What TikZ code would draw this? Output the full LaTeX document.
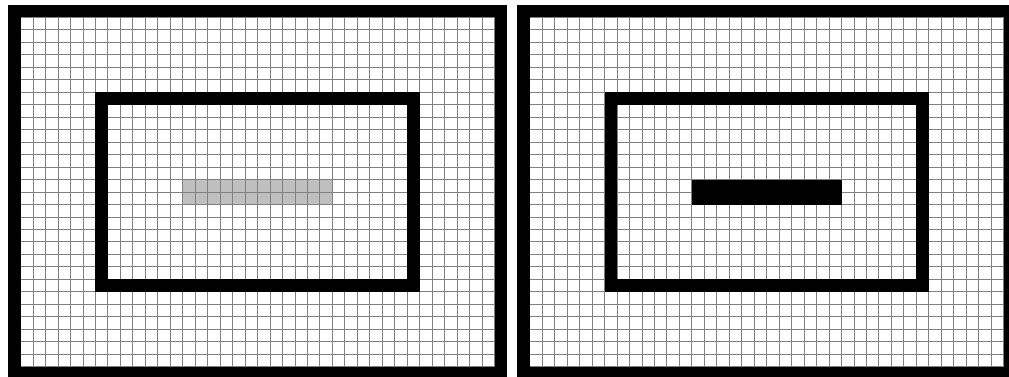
\documentclass[tikz,border=0pt]{standalone}
\tikzset{
  gridline/.style={draw=gray, line width=0.7pt},
  frame/.style={draw=black, line width=9.3525pt, line join=miter},
  panel/.style={x=9.3525pt, y=-9.3525pt},
  graybar/.style={fill=gray!50},
  blackbar/.style={fill=black},
}
\begin{document}
\begin{tikzpicture}[x=0.75pt,y=-0.75pt]
\useasboundingbox (0,0) rectangle (1009,377);
\clip (0,0) rectangle (1009,377);
% left panel
\begin{scope}[shift={(8.2,5)}, panel]
  \fill[graybar] (14,14) rectangle (26,16);
  \foreach \i in {1,...,39} \draw[gridline] (\i,1) -- (\i,29);
  \foreach \j in {1,...,29} \draw[gridline] (1,\j) -- (39,\j);
  \draw[frame] (0.5,0.5) rectangle (39.5,29.5);
  \draw[frame] (7.5,7.5) rectangle (32.5,22.5);
\end{scope}
% right panel
\begin{scope}[shift={(517.3,5)}, panel]
  \foreach \i in {1,...,39} \draw[gridline] (\i,1) -- (\i,29);
  \foreach \j in {1,...,29} \draw[gridline] (1,\j) -- (39,\j);
  \fill[blackbar] (14,14) rectangle (26,16);
  \draw[frame] (0.5,0.5) rectangle (39.5,29.5);
  \draw[frame] (7.5,7.5) rectangle (32.5,22.5);
\end{scope}
\end{tikzpicture}
\end{document}
